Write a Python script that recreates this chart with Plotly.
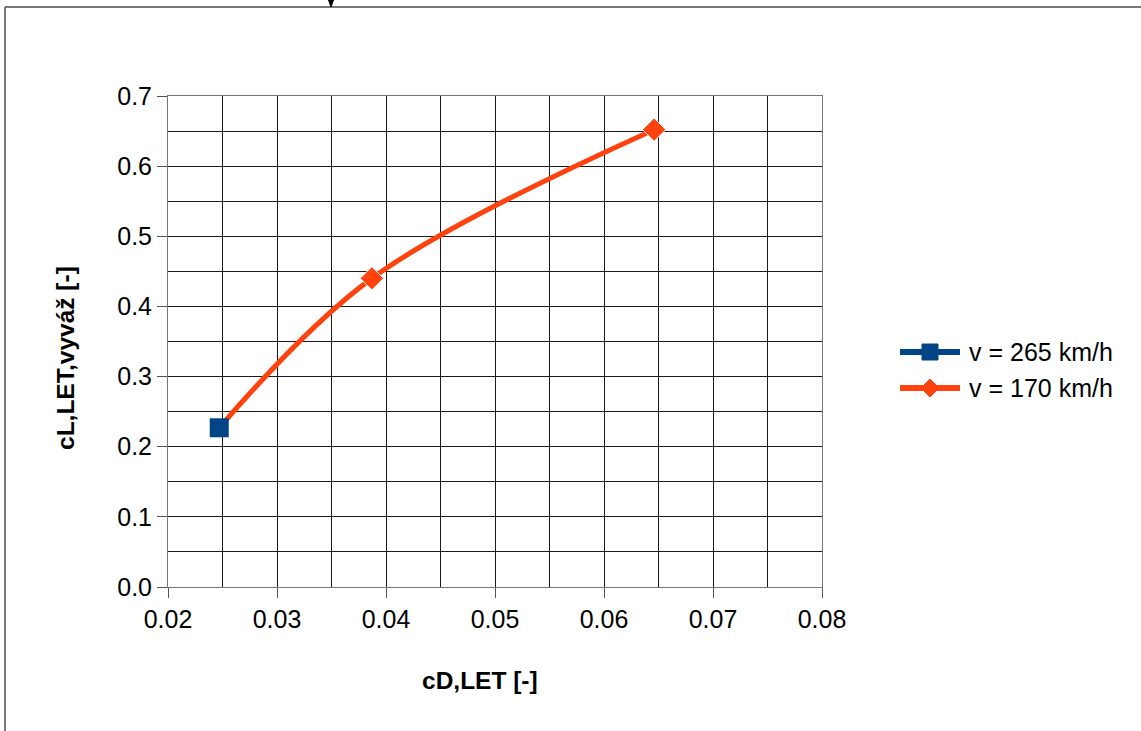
import plotly.graph_objects as go

# Data
series_names = ["v = 265 km/h", "v = 170 km/h"]
cd_265 = [0.0247]
cl_265 = [0.227]
cd_170 = [0.0247, 0.0387, 0.0646]
cl_170 = [0.227, 0.44, 0.652]
x_ticks = [0.02, 0.03, 0.04, 0.05, 0.06, 0.07, 0.08]
x_tick_labels = ["0.02", "0.03", "0.04", "0.05", "0.06", "0.07", "0.08"]
y_ticks = [0.0, 0.1, 0.2, 0.3, 0.4, 0.5, 0.6, 0.7]
y_tick_labels = ["0.0", "0.1", "0.2", "0.3", "0.4", "0.5", "0.6", "0.7"]

W, H = 1141, 731
L, R, T, B = 168, 822, 96, 587
pw, ph = R - L, B - T

def px(x):
    return (x - L) / pw

def py(y):
    return (B - y) / ph

FONT = "Liberation Sans, Arial, sans-serif"
GRID = "#1a1a1a"
BLUE = "#004586"
ORANGE = "#ff420e"

fig = go.Figure()

fig.add_trace(go.Scatter(
    x=cd_170, y=cl_170, name=series_names[1], mode="lines+markers",
    line=dict(color=ORANGE, width=5, shape="spline", smoothing=1.0),
    marker=dict(symbol="diamond", size=[0, 18, 18], color=ORANGE, opacity=1),
))
fig.add_trace(go.Scatter(
    x=cd_265, y=cl_265, name=series_names[0], mode="lines+markers",
    line=dict(color=BLUE, width=5),
    marker=dict(symbol="square", size=19, color=BLUE, opacity=1),
))

# Manual legend (long line samples like the reference)
legend_rows = [(352, BLUE, "square"), (388, ORANGE, "diamond")]
shapes = []
annotations = []
for (yy, col, sym), name in zip(legend_rows, series_names):
    shapes.append(dict(type="line", xref="paper", yref="paper",
                       x0=px(900), x1=px(960), y0=py(yy), y1=py(yy),
                       line=dict(color=col, width=6)))
    if sym == "square":
        path = (f"M {px(922)},{py(yy-8)} L {px(938)},{py(yy-8)} "
                f"L {px(938)},{py(yy+8)} L {px(922)},{py(yy+8)} Z")
    else:
        path = (f"M {px(930)},{py(yy-9)} L {px(939)},{py(yy)} "
                f"L {px(930)},{py(yy+9)} L {px(921)},{py(yy)} Z")
    shapes.append(dict(type="path", xref="paper", yref="paper", path=path,
                       fillcolor=col, line=dict(color=col, width=1)))
    annotations.append(dict(text=name, x=px(967), y=py(yy), xref="paper", yref="paper",
                            xanchor="left", yanchor="middle", showarrow=False,
                            font=dict(family=FONT, size=25, color="black")))

annotations += [
    dict(text="<b>cD,LET [-]</b>", x=px(480), y=py(680), xref="paper", yref="paper",
         xanchor="center", yanchor="middle", showarrow=False,
         font=dict(family=FONT, size=24.5, color="black")),
    dict(text="<b>cL,LET,vyváž [-]</b>", x=px(65), y=py(358), xref="paper", yref="paper",
         xanchor="center", yanchor="middle", showarrow=False, textangle=-90,
         font=dict(family=FONT, size=24.5, color="black")),
]

shapes += [
    dict(type="line", xref="paper", yref="paper", x0=px(5), x1=px(5), y0=py(7), y1=py(740),
         line=dict(color="#777777", width=2)),
    dict(type="line", xref="paper", yref="paper", x0=px(5), x1=px(1150), y0=py(7), y1=py(7),
         line=dict(color="#777777", width=2)),
    dict(type="path", xref="paper", yref="paper",
         path=f"M {px(328.5)},{py(0)} L {px(333.5)},{py(0)} L {px(331)},{py(7)} Z",
         fillcolor="black", line=dict(color="black", width=1)),
]

fig.update_layout(
    width=W, height=H,
    margin=dict(l=L, r=W - R, t=T, b=H - B, pad=0),
    paper_bgcolor="white", plot_bgcolor="white",
    font=dict(family=FONT, size=25, color="black"),
    showlegend=False,
    xaxis=dict(
        range=[0.02, 0.08], tickvals=x_ticks, ticktext=x_tick_labels,
        showgrid=True, gridcolor=GRID, gridwidth=1,
        minor=dict(dtick=0.005, tick0=0.02, showgrid=True, gridcolor=GRID, gridwidth=1, ticks=""),
        ticks="outside", ticklen=10, tickcolor="#555555", tickwidth=1,
        showline=True, linecolor="#777777", linewidth=1, mirror=True,
        zeroline=False, tickfont=dict(size=25),
    ),
    yaxis=dict(
        range=[0, 0.7], tickvals=y_ticks, ticktext=y_tick_labels,
        showgrid=True, gridcolor=GRID, gridwidth=1,
        minor=dict(dtick=0.05, tick0=0, showgrid=True, gridcolor=GRID, gridwidth=1, ticks=""),
        ticks="outside", ticklen=10, tickcolor="#555555", tickwidth=1,
        showline=True, linecolor="#777777", linewidth=1, mirror=True,
        zeroline=False, tickfont=dict(size=25),
    ),
    annotations=annotations,
    shapes=shapes,
)

fig.write_html("out.html", config={"displayModeBar": False},
               post_script="document.body.style.margin='0px';")
